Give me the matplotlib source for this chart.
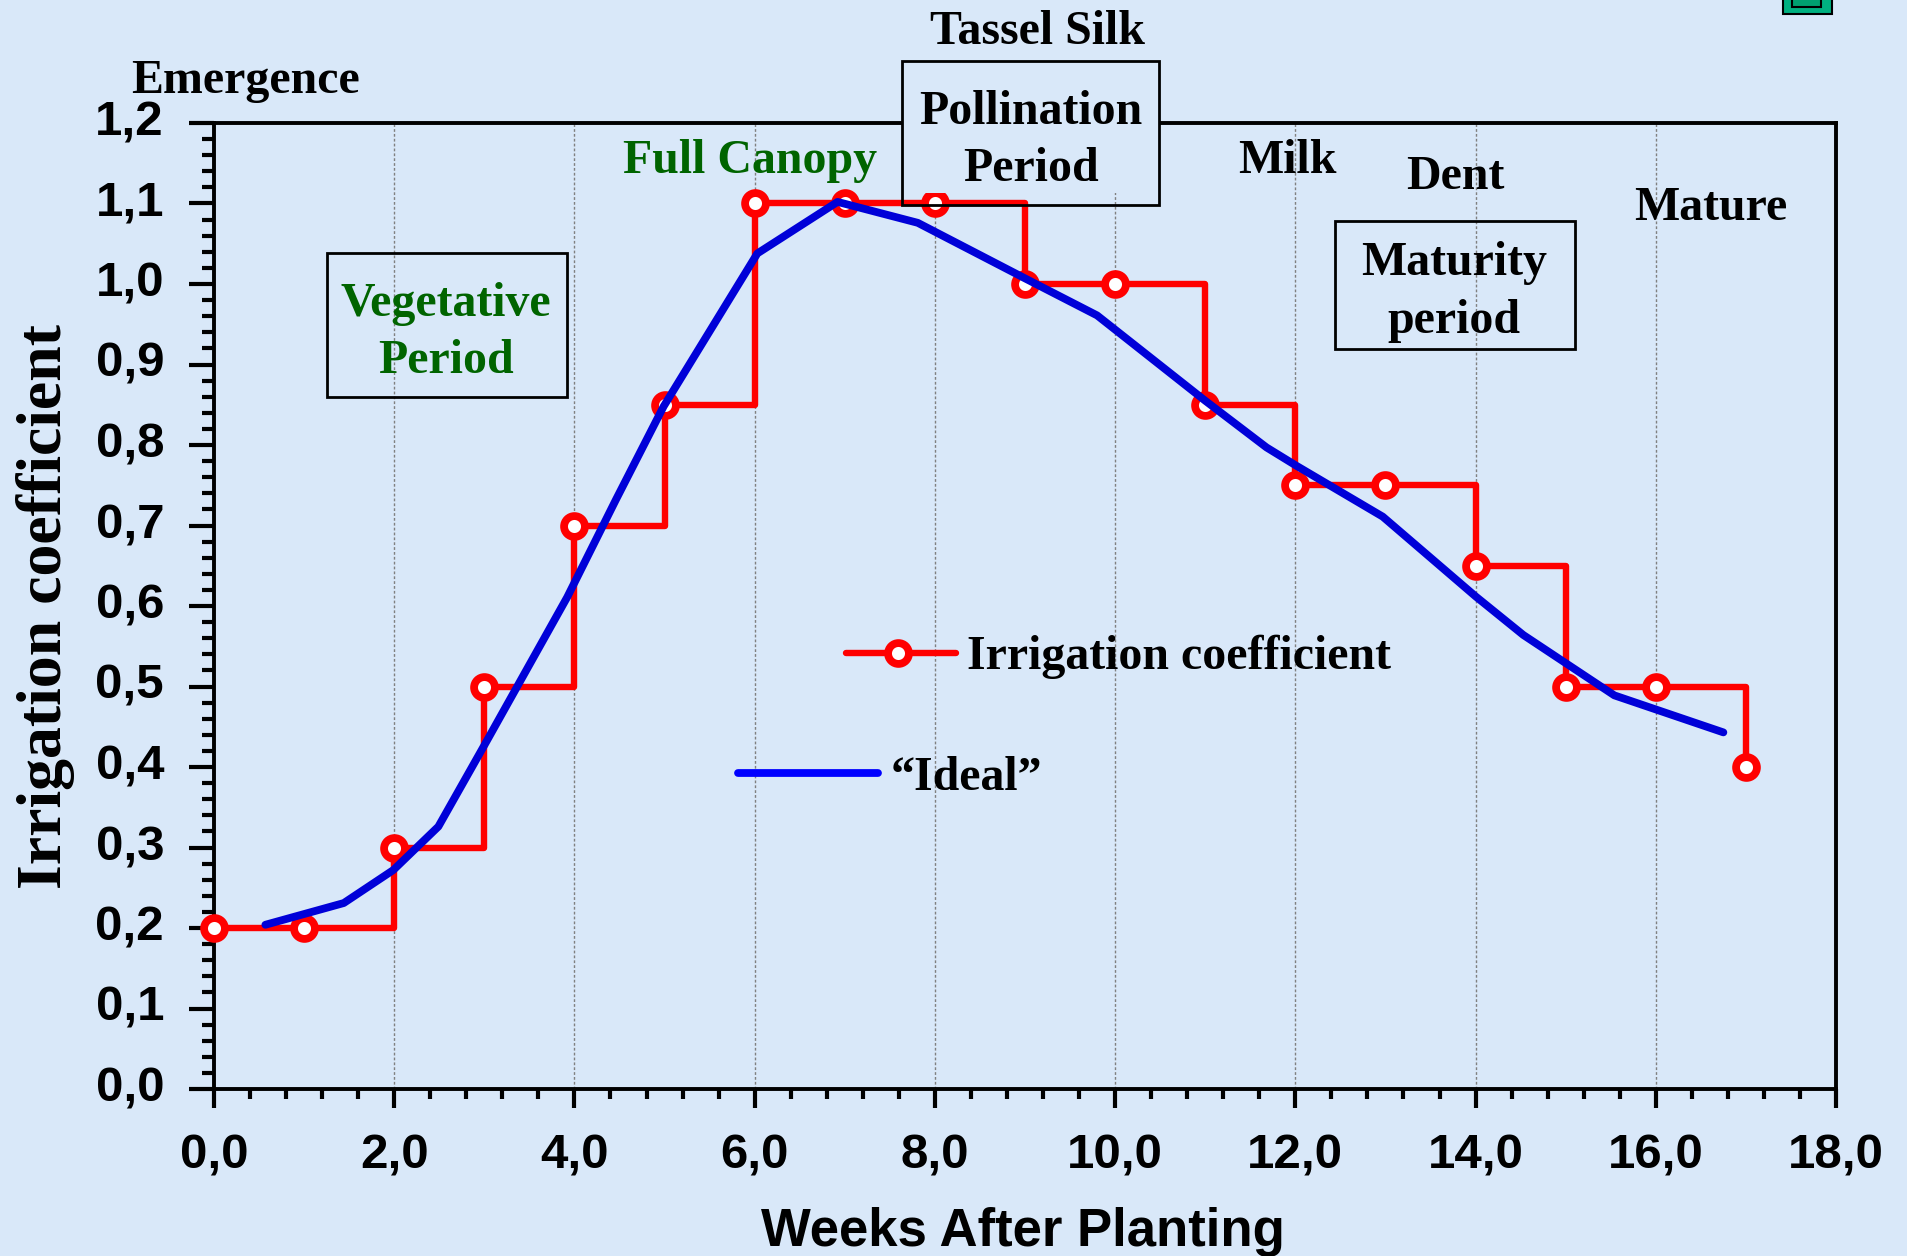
import matplotlib
matplotlib.use('Agg')
import matplotlib.pyplot as plt
from matplotlib.lines import Line2D
from matplotlib.patches import Rectangle
from matplotlib.ticker import FixedLocator, FuncFormatter
from matplotlib.transforms import ScaledTranslation

# irrigation coefficient per week
semanas = list(range(18))
coef = [0.2, 0.2, 0.3, 0.5, 0.7, 0.85, 1.1, 1.1, 1.1, 1.0, 1.0, 0.85, 0.75, 0.75, 0.65, 0.5, 0.5, 0.4]

# "ideal" curve
ideal_x = [0.57, 1.44, 1.99, 2.49, 2.99, 3.92, 4.46, 4.99, 6.03, 6.92, 7.81, 9.0, 9.8, 11.0, 11.68, 12.0, 12.97, 14.0, 14.53, 15.54, 16.75]
ideal_y = [0.204, 0.231, 0.272, 0.326, 0.425, 0.611, 0.732, 0.848, 1.038, 1.102, 1.076, 1.007, 0.961, 0.855, 0.797, 0.775, 0.711, 0.612, 0.564, 0.489, 0.443]

x_ticks = [0, 2, 4, 6, 8, 10, 12, 14, 16, 18]
x_minor = [i * 0.4 for i in range(46)]
y_ticks = [i / 10 for i in range(13)]
y_minor = [i / 50 for i in range(61)]

W, H = 1907, 1256
FUNDO = '#d9e8f9'
VERDE = '#006400'
SERIF = 'Liberation Serif'
SANS = 'Liberation Sans'

fig = plt.figure(figsize=(W / 100, H / 100), dpi=100, facecolor=FUNDO)
ax = fig.add_axes([214 / W, 1 - 1089 / H, (1836 - 214) / W, (1089 - 123) / H])
ax.set_facecolor('none')
ax.set_xlim(0, 18)
ax.set_ylim(0, 1.2)

for s in ax.spines.values():
    s.set_linewidth(2.8)

ax.xaxis.set_major_locator(FixedLocator(x_ticks))
ax.xaxis.set_minor_locator(FixedLocator(x_minor))
ax.yaxis.set_major_locator(FixedLocator(y_ticks))
ax.yaxis.set_minor_locator(FixedLocator(y_minor))
virgula = FuncFormatter(lambda v, p: '{:.1f}'.format(v).replace('.', ','))
ax.xaxis.set_major_formatter(virgula)
ax.yaxis.set_major_formatter(virgula)
ax.tick_params(axis='x', which='major', length=14, width=3, pad=18)
ax.tick_params(axis='x', which='minor', length=7, width=3)
ax.tick_params(axis='y', which='major', length=18, width=3, pad=18)
ax.tick_params(axis='y', which='minor', length=9, width=3)
for t in ax.get_xticklabels() + ax.get_yticklabels():
    t.set_fontname(SANS)
    t.set_fontweight('bold')
    t.set_fontsize(35.5)
# y labels sit a little above their ticks
sobe = ScaledTranslation(0, 5 / 100, fig.dpi_scale_trans)
for t in ax.get_yticklabels():
    t.set_transform(t.get_transform() + sobe)

for v in x_ticks[1:-1]:
    ax.axvline(v, color='#808080', linewidth=1.0, linestyle=(0, (2, 1.5)), zorder=1)

ax.plot(semanas, coef, drawstyle='steps-post', color='#ff0000', linewidth=4.6, solid_joinstyle='round',
        marker='o', markersize=15, markeredgewidth=5.6, markerfacecolor='white', markeredgecolor='#ff0000',
        clip_on=False, zorder=4)
ax.plot(ideal_x, ideal_y, color='#0000d8', linewidth=5.6, solid_capstyle='round', solid_joinstyle='round',
        clip_on=False, zorder=5)


def px(x, y):
    return x / W, 1 - y / H


def texto(x, y, s, color='black', size=34.5, ha='center'):
    fx, fy = px(x, y + 1)
    ax.text(fx, fy, s, transform=fig.transFigure, family=SERIF, fontweight='bold', fontsize=size,
            color=color, ha=ha, va='baseline', zorder=10, clip_on=False)


def caixa(x0, y0, x1, y1, y_fundo=None):
    # background fill hides the spine and grid, the outline goes on top
    if y_fundo is not None:
        fx, fy = px(x0, y_fundo)
        ax.add_patch(Rectangle((fx, fy), (x1 - x0) / W, (y_fundo - y0) / H, transform=fig.transFigure,
                               facecolor=FUNDO, edgecolor='none', zorder=6, clip_on=False))
    fx, fy = px(x0, y1)
    ax.add_patch(Rectangle((fx, fy), (x1 - x0) / W, (y1 - y0) / H, transform=fig.transFigure,
                           facecolor='none', edgecolor='black', linewidth=2.0, zorder=7, clip_on=False))


caixa(327, 253, 567, 397)
caixa(902, 61, 1159, 205, y_fundo=193)
caixa(1335, 221, 1575, 349)

texto(246, 92, 'Emergence')
texto(1038, 43, 'Tassel Silk')
texto(1031, 123, 'Pollination')
texto(1031, 180, 'Period')
texto(750, 172, 'Full Canopy', color=VERDE)
texto(446, 315, 'Vegetative', color=VERDE)
texto(446, 372, 'Period', color=VERDE)
texto(1287, 172, 'Milk')
texto(1455, 188, 'Dent')
texto(1711, 219, 'Mature')
texto(1454, 274, 'Maturity')
texto(1454, 332, 'period')

# hand made legend
fig.add_artist(Line2D([846 / W, 956 / W], [1 - 653 / H] * 2, color='#ff0000', linewidth=4.6, solid_capstyle='round', zorder=8))
fig.add_artist(Line2D([898 / W], [1 - 653 / H], marker='o', markersize=15, markeredgewidth=5.6,
                      markerfacecolor='white', markeredgecolor='#ff0000', zorder=9))
texto(967, 668, 'Irrigation coefficient', ha='left')
fig.add_artist(Line2D([738 / W, 878 / W], [1 - 773 / H] * 2, color='#0000ff', linewidth=5.6, solid_capstyle='round', zorder=8))
texto(891, 789, '\u201cIdeal\u201d', ha='left')

# axis titles
fig.text(46 / W, 1 - 606 / H, 'Irrigation coefficient', family=SERIF, fontweight='bold', fontsize=46,
         rotation=90, ha='center', va='center')
fig.text(1023 / W, 1 - 1232 / H, 'Weeks After Planting', family=SANS, fontweight='bold', fontsize=38,
         ha='center', va='center')

# bit of the slide button cut by the top edge
fig.add_artist(Rectangle((1783 / W, 1 - 14 / H), 49 / W, 16 / H, transform=fig.transFigure,
                         facecolor='#00b080', edgecolor='black', linewidth=1.5))
fig.add_artist(Rectangle((1792 / W, 1 - 7 / H), 29 / W, 9 / H, transform=fig.transFigure,
                         facecolor='#00a070', edgecolor='black', linewidth=1.5))

fig.savefig('out.png', dpi=100, facecolor=FUNDO)
